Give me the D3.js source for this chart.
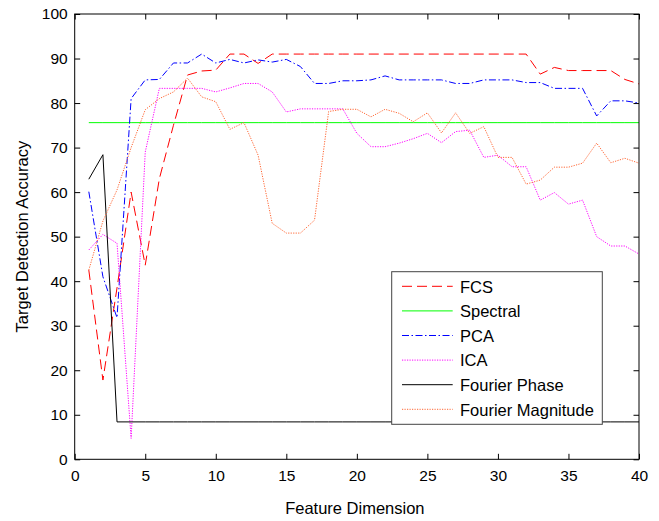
<!DOCTYPE html>
<html lang="en">
<head>
    <meta charset="UTF-8">
    <title>Target Detection Accuracy</title>
    <script src="https://cdnjs.cloudflare.com/ajax/libs/d3/7.8.5/d3.min.js"></script>
    <style>
        body { margin: 0; background: #fff; }
        svg text { font-family: "Liberation Sans", Arial, sans-serif; fill: #000; }
    </style>
</head>
<body>
    <svg id="chart" width="659" height="521"></svg>

    <script>
        // Feature dimensions 1..40
        const dims = d3.range(1, 41);

        // Series values
        const fcs = [42.5, 17.8, 38.5, 60, 43.6, 63, 75, 86.3, 87.2, 87.4,
            91, 91, 88.9, 91, 91, 91, 91, 91, 91, 91,
            91, 91, 91, 91, 91, 91, 91, 91, 91, 91,
            91, 91, 86.5, 88, 87.3, 87.3, 87.3, 87.3, 85.3, 84.3];
        const spectral = [75.6, 75.6, 75.6, 75.6, 75.6, 75.6, 75.6, 75.6, 75.6, 75.6,
            75.6, 75.6, 75.6, 75.6, 75.6, 75.6, 75.6, 75.6, 75.6, 75.6,
            75.6, 75.6, 75.6, 75.6, 75.6, 75.6, 75.6, 75.6, 75.6, 75.6,
            75.6, 75.6, 75.6, 75.6, 75.6, 75.6, 75.6, 75.6, 75.6, 75.6];
        const pca = [60.1, 41, 31.8, 81, 85.2, 85.3, 89, 89, 91, 89,
            89.8, 89, 89.7, 89.2, 89.8, 88.2, 84.4, 84.4, 85, 85,
            85.2, 86.1, 85.2, 85.2, 85.2, 85.2, 84.4, 84.4, 85.2, 85.2,
            85.2, 84.6, 84.6, 83.3, 83.3, 83.3, 77.1, 80.5, 80.5, 80];
        const ica = [47, 50.5, 48.5, 4.7, 69, 83.3, 83.3, 83.3, 83.3, 82.5,
            83.4, 84.4, 84.4, 82.5, 78, 78.7, 78.7, 78.7, 78.7, 73.2,
            70.2, 70.2, 71, 72, 73.2, 71.1, 73.6, 73.9, 67.8, 68.3,
            65.7, 65.7, 58.2, 59.9, 57.3, 58.2, 50, 47.9, 47.9, 46.1];
        const fourierPhase = [62.9, 68.4, 8.4, 8.4, 8.4, 8.4, 8.4, 8.4, 8.4, 8.4,
            8.4, 8.4, 8.4, 8.4, 8.4, 8.4, 8.4, 8.4, 8.4, 8.4,
            8.4, 8.4, 8.4, 8.4, 8.4, 8.4, 8.4, 8.4, 8.4, 8.4,
            8.4, 8.4, 8.4, 8.4, 8.4, 8.4, 8.4, 8.4, 8.4, 8.4];
        const fourierMag = [42.5, 53.5, 60.5, 70, 78.5, 81, 82.5, 85.6, 81.4, 80.3,
            74.1, 75.6, 68.3, 53, 50.8, 50.8, 53.7, 78.1, 78.6, 78.6,
            76.9, 78.6, 77.7, 75.8, 77.8, 73.3, 77.8, 73.2, 74.7, 67.8,
            67.8, 61.8, 62.7, 65.6, 65.6, 66.5, 71, 66.6, 67.6, 66.5];

        const seriesNames = ["FCS", "Spectral", "PCA", "ICA", "Fourier Phase", "Fourier Magnitude"];
        const xTicks = [0, 5, 10, 15, 20, 25, 30, 35, 40];
        const yTicks = [0, 10, 20, 30, 40, 50, 60, 70, 80, 90, 100];

        // line styles (MATLAB-like)
        const styles = [
            { color: "#ff0000", dash: "10,5" },
            { color: "#00ff00", dash: null },
            { color: "#0000ff", dash: "7,2.5,1.5,2.5" },
            { color: "#ff00ff", dash: "1.2,1.3" },
            { color: "#000000", dash: null },
            { color: "#ff6633", dash: "1.2,1.3" }
        ];
        const allSeries = [fcs, spectral, pca, ica, fourierPhase, fourierMag];

        const margin = { left: 74.7, top: 14, right: 20, bottom: 61.7 };
        const width = 659 - margin.left - margin.right;
        const height = 521 - margin.top - margin.bottom;

        const svg = d3.select("#chart");
        const g = svg.append("g").attr("transform", `translate(${margin.left},${margin.top})`);

        const x = d3.scaleLinear().domain([0, 40]).range([0, width]);
        const y = d3.scaleLinear().domain([0, 100]).range([height, 0]);

        // axes with inward ticks on all four sides
        const tickLen = 5.5;
        g.append("g")
            .attr("transform", `translate(0,${height})`)
            .call(d3.axisBottom(x).tickValues(xTicks).tickSizeInner(-tickLen).tickSizeOuter(0).tickPadding(11))
            .call(ax => ax.select(".domain").remove());
        g.append("g")
            .call(d3.axisTop(x).tickValues(xTicks).tickSizeInner(-tickLen).tickSizeOuter(0).tickFormat(""))
            .call(ax => ax.select(".domain").remove());
        g.append("g")
            .call(d3.axisLeft(y).tickValues(yTicks).tickSizeInner(-tickLen).tickSizeOuter(0).tickPadding(7))
            .call(ax => ax.select(".domain").remove());
        g.append("g")
            .attr("transform", `translate(${width},0)`)
            .call(d3.axisRight(y).tickValues(yTicks).tickSizeInner(-tickLen).tickSizeOuter(0).tickFormat(""))
            .call(ax => ax.select(".domain").remove());

        g.selectAll(".tick text").attr("font-size", "15.5px").attr("font-family", "Liberation Sans, Arial, sans-serif");
        g.selectAll(".tick line").attr("stroke", "#000");

        // series lines
        const line = d3.line()
            .x((d, i) => x(dims[i]))
            .y(d => y(d));

        allSeries.forEach((vals, i) => {
            g.append("path")
                .datum(vals)
                .attr("fill", "none")
                .attr("stroke", styles[i].color)
                .attr("stroke-width", 1)
                .attr("stroke-dasharray", styles[i].dash)
                .attr("d", line);
        });

        // plot frame
        g.append("rect")
            .attr("width", width).attr("height", height)
            .attr("fill", "none").attr("stroke", "#000").attr("stroke-width", 1);

        // axis labels
        svg.append("text")
            .attr("x", margin.left + x(20) - 2)
            .attr("y", 514)
            .attr("text-anchor", "middle")
            .attr("font-size", "16.5px")
            .text("Feature Dimension");
        svg.append("text")
            .attr("transform", `translate(28,${margin.top + height / 2}) rotate(-90)`)
            .attr("text-anchor", "middle")
            .attr("font-size", "16.5px")
            .text("Target Detection Accuracy");

        // legend
        const legend = svg.append("g").attr("transform", "translate(391.7,271.7)");
        legend.append("rect")
            .attr("width", 210.6).attr("height", 152.6)
            .attr("fill", "#fff").attr("stroke", "#444").attr("stroke-width", 1);

        const item = legend.selectAll("g.item")
            .data(seriesNames)
            .enter()
            .append("g")
            .attr("class", "item")
            .attr("transform", (d, i) => `translate(0,${14.6 + i * 24.6})`);
        item.append("line")
            .attr("x1", 10.3).attr("x2", 61)
            .attr("stroke", (d, i) => styles[i].color)
            .attr("stroke-dasharray", (d, i) => styles[i].dash)
            .attr("stroke-width", 1);
        item.append("text")
            .attr("x", 68.3).attr("y", 6.2)
            .attr("font-size", "16.5px")
            .text(d => d);
    </script>
</body>
</html>
